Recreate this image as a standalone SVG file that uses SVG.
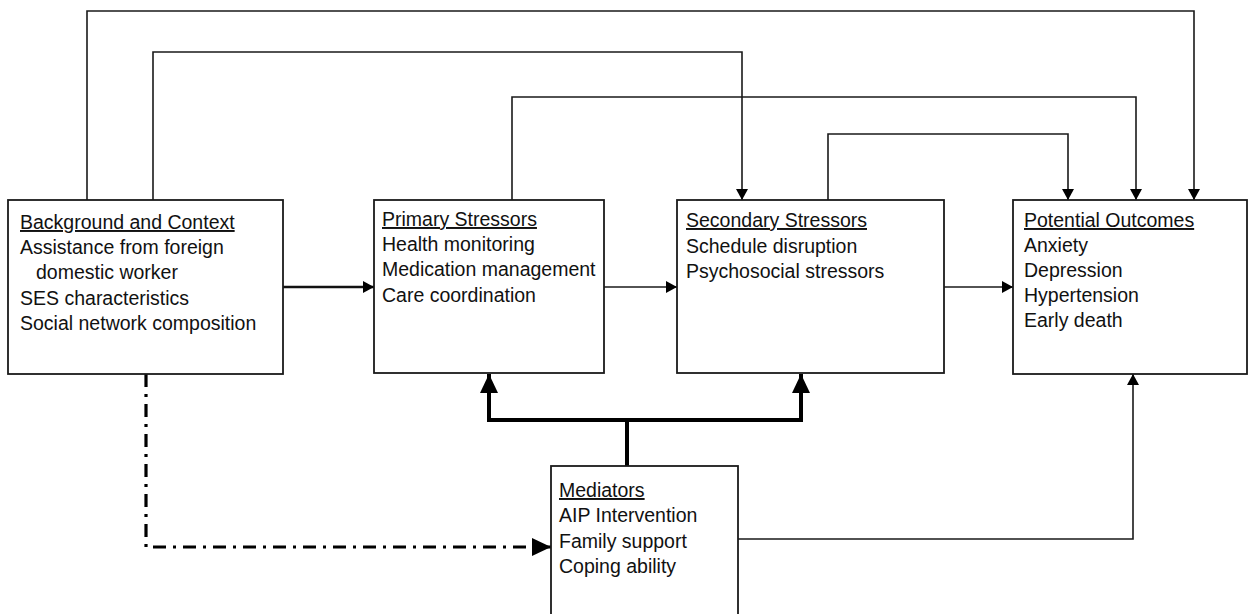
<svg xmlns="http://www.w3.org/2000/svg" width="1248" height="614" viewBox="0 0 1248 614">
  <style>
    .box { fill: #ffffff; stroke: #1a1a1a; stroke-width: 1.8; }
    .t { font-family: "Liberation Sans", Arial, sans-serif; font-size: 19.5px; fill: #111111; }
    .title { text-decoration: underline; }
    .c { fill: none; stroke: #1a1a1a; stroke-width: 1.6; }
    .cm { fill: none; stroke: #111111; stroke-width: 2.4; }
    .thick { fill: none; stroke: #000000; stroke-width: 4; }
    .dash { fill: none; stroke: #000000; stroke-width: 3.2; stroke-dasharray: 13 7 3 7; }
  </style>
  <defs>
    <marker id="arr" markerUnits="userSpaceOnUse" markerWidth="11" markerHeight="12" viewBox="0 0 11 12" refX="11" refY="6" orient="auto">
      <path d="M0,0 L11,6 L0,12 z" fill="#000"/>
    </marker>
    <marker id="arrBig" markerUnits="userSpaceOnUse" markerWidth="19" markerHeight="18" viewBox="0 0 19 18" refX="19" refY="9" orient="auto">
      <path d="M0,0 L19,9 L0,18 z" fill="#000"/>
    </marker>
  </defs>

  <g id="connectors">
    <path class="c" d="M87,200 V11 H1194 V200" marker-end="url(#arr)"/>
    <path class="c" d="M153,200 V52 H742 V200" marker-end="url(#arr)"/>
    <path class="c" d="M512,200 V97 H1136 V200" marker-end="url(#arr)"/>
    <path class="c" d="M828,200 V134 H1068 V200" marker-end="url(#arr)"/>
    <path class="cm" d="M283,287 H374" marker-end="url(#arr)"/>
    <path class="c" d="M604,287 H677" marker-end="url(#arr)"/>
    <path class="c" d="M944,287 H1013" marker-end="url(#arr)"/>
    <path class="thick" d="M627,466 V420"/>
    <path class="thick" d="M629,420 H489 V374" marker-end="url(#arrBig)"/>
    <path class="thick" d="M625,420 H801 V374" marker-end="url(#arrBig)"/>
    <path class="c" d="M738,539 H1133 V374" marker-end="url(#arr)"/>
    <path class="dash" d="M146,374 V547 H551" marker-end="url(#arrBig)"/>
  </g>

  <g id="background">
    <rect class="box" x="8" y="200" width="275" height="174"/>
    <text class="t title" x="20" y="229">Background and Context</text>
    <text class="t" x="20" y="254">Assistance from foreign</text>
    <text class="t" x="36" y="279">domestic worker</text>
    <text class="t" x="20" y="305">SES characteristics</text>
    <text class="t" x="20" y="330">Social network composition</text>
  </g>

  <g id="primary">
    <rect class="box" x="374" y="200" width="230" height="173"/>
    <text class="t title" x="382" y="226">Primary Stressors</text>
    <text class="t" x="382" y="251">Health monitoring</text>
    <text class="t" x="382" y="276">Medication management</text>
    <text class="t" x="382" y="302">Care coordination</text>
  </g>

  <g id="secondary">
    <rect class="box" x="677" y="200" width="267" height="173"/>
    <text class="t title" x="686" y="227">Secondary Stressors</text>
    <text class="t" x="686" y="253">Schedule disruption</text>
    <text class="t" x="686" y="278">Psychosocial stressors</text>
  </g>

  <g id="outcomes">
    <rect class="box" x="1013" y="200" width="234" height="174"/>
    <text class="t title" x="1024" y="227">Potential Outcomes</text>
    <text class="t" x="1024" y="252">Anxiety</text>
    <text class="t" x="1024" y="277">Depression</text>
    <text class="t" x="1024" y="302">Hypertension</text>
    <text class="t" x="1024" y="327">Early death</text>
  </g>

  <g id="mediators">
    <rect class="box" x="551" y="466" width="187" height="160"/>
    <text class="t title" x="559" y="497">Mediators</text>
    <text class="t" x="559" y="522">AIP Intervention</text>
    <text class="t" x="559" y="548">Family support</text>
    <text class="t" x="559" y="573">Coping ability</text>
  </g>
</svg>
